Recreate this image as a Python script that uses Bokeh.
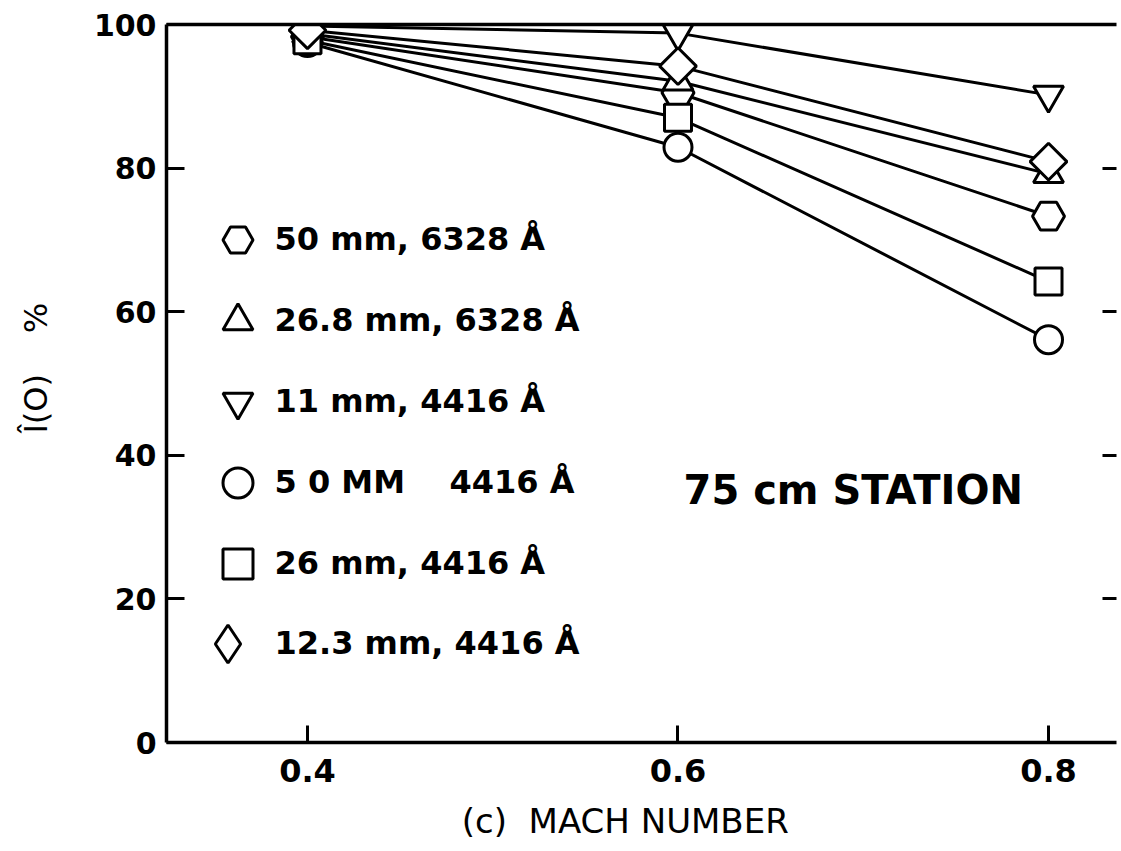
from bokeh.plotting import figure
from bokeh.models import (LinearAxis, FixedTicker, Range1d, Legend, LegendItem,
                          Label, ColumnDataSource)
from bokeh.embed import file_html
from bokeh.resources import INLINE
import math

# ---------------- data ----------------
mach = [0.4, 0.6, 0.8]
hex_50mm_6328 = [98.3, 90.5, 73.3]
tri_268mm_6328 = [98.7, 92.1, 79.2]
invtri_11mm_4416 = [99.8, 98.8, 90.2]
circ_50mm_4416 = [97.5, 82.9, 56.1]
sq_26mm_4416 = [97.8, 87.0, 64.2]
dia_123mm_4416 = [99.2, 94.2, 80.9]

NB = "\u00a0"
labels = ["50 mm, 6328 Å", "26.8 mm, 6328 Å", "11 mm, 4416 Å",
          "5 0 MM" + NB * 4 + "4416 Å", "26 mm, 4416 Å", "12.3 mm, 4416 Å"]
x_ticks = [0.4, 0.6, 0.8]
y_ticks = [0, 20, 40, 60, 80, 100]

series = [
    (hex_50mm_6328, "hex", 32, 0.0),
    (tri_268mm_6328, "triangle", 30, 0.0),
    (invtri_11mm_4416, "inverted_triangle", 30, 0.0),
    (circ_50mm_4416, "circle", 28, 0.0),
    (sq_26mm_4416, "square", 27, 0.0),
    (dia_123mm_4416, "square", 26, math.pi / 4),
]

FONT = "DejaVu Sans"

p = figure(width=1119, height=843, output_backend="svg", toolbar_location=None,
           x_range=Range1d(0.3239, 0.8367), y_range=Range1d(0, 100),
           min_border_left=166, min_border_top=24, min_border_bottom=101,
           min_border_right=3)
p.outline_line_color = None
p.grid.visible = False
p.background_fill_color = "white"
p.border_fill_color = "white"

# axes
xa = p.xaxis[0]
xa.ticker = FixedTicker(ticks=x_ticks)
xa.minor_tick_line_color = None
xa.major_tick_in = 17
xa.major_tick_out = 0
xa.major_tick_line_width = 3
xa.axis_line_width = 3.5
xa.major_label_text_font = FONT
xa.major_label_text_font_style = "bold"
xa.major_label_text_font_size = "32px"
xa.major_label_text_color = "black"
xa.major_label_standoff = 16
xa.axis_label = "(c)" + NB * 2 + "MACH NUMBER" + NB * 3
xa.axis_label_text_font = FONT
xa.axis_label_text_font_style = "normal"
xa.axis_label_text_font_size = "34px"
xa.axis_label_text_color = "black"
xa.axis_label_standoff = 16

ya = p.yaxis[0]
ya.ticker = FixedTicker(ticks=y_ticks)
ya.minor_tick_line_color = None
ya.major_tick_in = 18
ya.major_tick_out = 0
ya.major_tick_line_width = 3
ya.axis_line_width = 3.5
ya.major_label_text_font = FONT
ya.major_label_text_font_style = "bold"
ya.major_label_text_font_size = "30px"
ya.major_label_text_color = "black"
ya.major_label_standoff = 10
ya.axis_label = NB * 3 + "Î(O)" + NB * 4 + "%"
ya.axis_label_text_font = FONT
ya.axis_label_text_font_style = "normal"
ya.axis_label_text_font_size = "32px"
ya.axis_label_text_color = "black"
ya.axis_label_standoff = 36

top = LinearAxis(ticker=FixedTicker(ticks=[]), axis_line_width=3.5,
                 major_tick_in=0, major_tick_out=0, minor_tick_line_color=None,
                 major_label_text_font_size="0px")
p.add_layout(top, "above")

right = LinearAxis(ticker=FixedTicker(ticks=[20, 40, 60, 80]), axis_line_color=None,
                   major_tick_in=14, major_tick_out=0, major_tick_line_width=3,
                   minor_tick_line_color=None, major_label_text_font_size="0px",
                   major_label_standoff=0)
p.add_layout(right, "right")

# lines
for ys, *_ in series:
    p.line(mach, ys, line_color="black", line_width=3)

renderers = []
for ys, marker, size, ang in series:
    src = ColumnDataSource(dict(x=mach, y=ys))
    r = p.scatter("x", "y", source=src, marker=marker, size=size, angle=ang,
                  fill_color="white", line_color="black", line_width=3)
    renderers.append(r)

# hidden key glyph for the diamond entry (legends draw markers unrotated)
dia_key = p.scatter(x=mach, y=dia_123mm_4416, marker="diamond", size=38,
                    fill_color="white", line_color="black", line_width=3,
                    visible=False)

common = dict(spacing=6, label_standoff=0, padding=0, margin=0,
              border_line_color=None, background_fill_alpha=0,
              inactive_fill_alpha=0,
              label_text_font=FONT, label_text_font_style="bold",
              label_text_font_size="32px", label_text_color="black")

legend_a = Legend(items=[LegendItem(label=lab, renderers=[r])
                         for lab, r in zip(labels[:5], renderers[:5])],
                  location=(33.5, 141.5), glyph_width=75, glyph_height=75, **common)
legend_b = Legend(items=[LegendItem(label=labels[5], renderers=[dia_key])],
                  location=(13.5, 51.5), glyph_width=95, glyph_height=95, **common)
p.add_layout(legend_a, "center")
p.add_layout(legend_b, "center")

p.add_layout(Label(x=0.603, y=35.2, text="75 cm STATION", text_font=FONT,
                   text_font_style="bold", text_font_size="40px",
                   text_baseline="alphabetic", text_color="black"))

open("out.html", "w").write(file_html(p, INLINE))
